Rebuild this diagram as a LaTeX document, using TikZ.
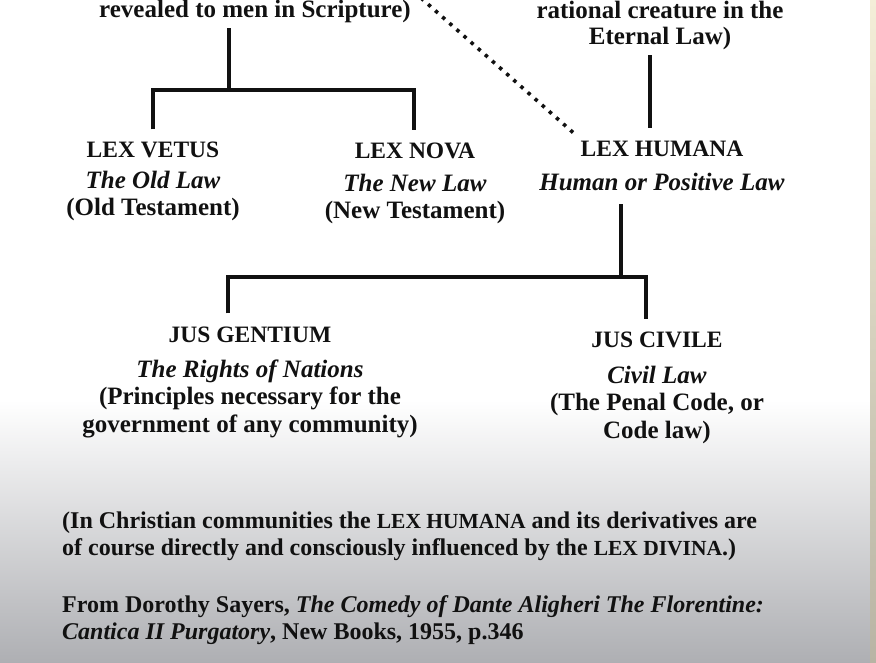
\documentclass[tikz,border=0pt]{standalone}
\usepackage{fontspec}
\setmainfont{Liberation Serif}
\usepackage{xcolor}
\usepackage{tikz}
\definecolor{ink}{HTML}{111111}
\definecolor{paper}{HTML}{FFFFFF}
\definecolor{fade}{HTML}{AEAFB3}
\definecolor{edgetop}{HTML}{F4EED8}
\definecolor{edgebot}{HTML}{B8B4A4}
\newcommand{\ttl}[1]{{\fontsize{23.5}{28}\selectfont #1}}
\newcommand{\smc}[1]{{\fontsize{21.5}{27}\selectfont #1}}
\tikzset{
  base/.style={draw=ink, line width=4pt, line cap=butt, line join=miter},
  dots/.style={draw=ink, line width=3.6pt, dash pattern=on 3.5pt off 6pt},
  blk/.style={text=ink, align=center, inner sep=0pt, outer sep=13pt, anchor=base,
    font=\fontsize{25}{27.5}\selectfont\bfseries},
  top/.style={blk, outer sep=5pt, font=\fontsize{25}{26}\selectfont\bfseries},
  note/.style={text=ink, align=left, inner sep=0pt, anchor=base west,
    font=\fontsize{24}{27}\selectfont\bfseries},
}
\begin{document}
\begin{tikzpicture}[x=1pt,y=-1pt]
  \useasboundingbox (0,0) rectangle (876,663);
  \fill[paper] (0,0) rectangle (876,663);
  \shade[top color=paper, bottom color=fade] (0,400) rectangle (870,663);
  \shade[top color=edgetop, bottom color=edgebot] (870,0) rectangle (876,663);
  \clip (0,0) rectangle (876,663);

  \node[top] (divina) at (255,18) {revealed to men in Scripture)};
  \node[top] (naturalis) at (660,45) {rational creature in the\\Eternal Law)};

  \node[blk] (vetus) at (153,216) {\ttl{LEX VETUS}\\[3pt]\textit{The Old Law}\\(Old Testament)};
  \node[blk] (nova) at (415,219) {\ttl{LEX NOVA}\\[5pt]\textit{The New Law}\\(New Testament)};
  \node[blk] (humana) at (662,191) {\ttl{LEX HUMANA}\\[7pt]\textit{Human or Positive Law}};

  \node[blk] (gentium) at (250,432) {\ttl{JUS GENTIUM}\\[7.5pt]\textit{The Rights of Nations}\\(Principles necessary for the\\government of any community)};
  \node[blk] (civile) at (657,438) {\ttl{JUS CIVILE}\\[8pt]\textit{Civil Law}\\(The Penal Code, or\\Code law)};

  \coordinate (jv) at (229,90);
  \coordinate (jvl) at (153,90);
  \coordinate (jvr) at (414,90);
  \draw[base] (divina.south -| jv) -- (jv);
  \draw[base] (vetus.north -| jvl) -- (jvl) -- (jvr) -- (nova.north -| jvr);

  \draw[base] ([xshift=-10pt]naturalis.south) -- ([xshift=-10pt]naturalis.south |- humana.north);

  \coordinate (dtop) at (421,-2);
  \coordinate (dend) at (577,136);
  \draw[dots] (dtop) -- (dend);

  \coordinate (jh) at (621,277);
  \coordinate (jl) at (228,277);
  \coordinate (jr) at (646,277);
  \draw[base] (humana.south -| jh) -- (jh);
  \draw[base] (gentium.north -| jl) -- (jl) -- (jr) -- (civile.north -| jr);

  \node[note] (remark) at (62,555) {(In Christian communities the \smc{LEX HUMANA} and its derivatives are\\of course directly and consciously influenced by the \smc{LEX DIVINA}.)};
  \node[note] (source) at (62,639) {From Dorothy Sayers, \textit{The Comedy of Dante Aligheri The Florentine:}\\\textit{Cantica II Purgatory}, New Books, 1955, p.346};
\end{tikzpicture}
\end{document}
